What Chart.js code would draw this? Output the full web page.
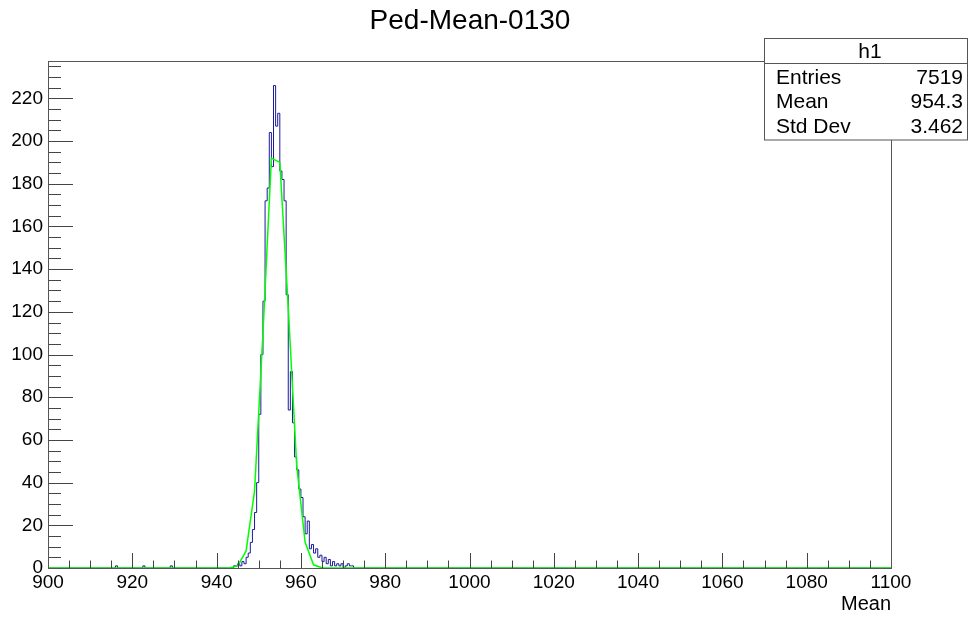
<!DOCTYPE html>
<html>
<head>
<meta charset="utf-8">
<script src="https://cdn.jsdelivr.net/npm/chart.js@4.4.0/dist/chart.umd.min.js"></script>
<style>
  html, body { margin: 0; padding: 0; background: #fff; }
  #wrap { width: 968px; height: 617px; }
</style>
</head>
<body>
<div id="wrap"><canvas id="hist_canvas" width="968" height="617"></canvas></div>
<script>
// histogram h1 (Ped-Mean-0130), counts
const histTitle = "Ped-Mean-0130"
const xTitle = "Mean"
const peakStart = 943.0
const binWidth = 0.5
const peakCounts = [
    0, 0, 1, 1, 2, 1, 3, 2, 5, 7,          // 943.0 - 947.5
    12, 18, 26, 40, 72, 100, 125, 172, 178, 204,   // 948.0 - 952.5
    188, 226, 207, 213, 186, 182, 172, 128, 74, 92, // 953.0 - 957.5
    68, 52, 46, 37, 33, 24, 16, 22, 9, 11,   // 958.0 - 962.5
    7, 9, 5, 6, 3, 5, 2, 4, 1, 3,           // 963.0 - 967.5
    1, 2, 1, 2, 0, 1, 2, 1, 1, 0            // 968.0 - 972.5
]
const strayBins = [916.0, 922.5, 929.0]
const strayCounts = [1, 1, 1]

// gaus fit, drawn as straight segments
const fitX = [900, 943, 945, 947, 949, 951, 953, 955, 957, 959, 961, 963, 965, 1100]
const fitY = [0, 0, 1, 8, 36, 110, 192, 190, 122, 48, 12, 1.5, 0.1, 0]

const statsLabels = ["Entries", "Mean", "Std Dev"]
const statsValues = ["7519", "954.3", "3.462"]
const statsName = "h1"

const xMin = 900, xMax = 1100
const yMin = 0, yMax = 237.5

const FONT = "'Liberation Sans', Arial, Helvetica, sans-serif"

function histPoints() {
    // each point is a bin low edge, step goes flat to the next point
    const pts = [{ x: xMin, y: 0 }]
    for (let i = 0; i < strayBins.length; i++) {
        pts.push({ x: strayBins[i], y: strayCounts[i] })
        pts.push({ x: strayBins[i] + binWidth, y: 0 })
    }
    for (let i = 0; i < peakCounts.length; i++) {
        pts.push({ x: peakStart + i * binWidth, y: peakCounts[i] })
    }
    pts.push({ x: peakStart + peakCounts.length * binWidth, y: 0 })
    pts.push({ x: xMax, y: 0 })
    return pts
}

// frame, inner ticks, title and stats box like ROOT draws them
const rootLook = {
    id: 'rootLook',
    afterDraw(chart) {
        const ctx = chart.ctx
        const a = chart.chartArea
        const xs = chart.scales.x, ys = chart.scales.y
        ctx.save()

        ctx.strokeStyle = '#444'
        ctx.lineWidth = 1
        ctx.beginPath()
        for (let v = xMin; v <= xMax; v += 5) {
            const px = Math.round(xs.getPixelForValue(v)) + 0.5
            const len = (v % 20 === 0) ? 15 : 7.5
            ctx.moveTo(px, a.bottom)
            ctx.lineTo(px, a.bottom - len)
        }
        for (let v = 0; v <= yMax; v += 5) {
            const py = Math.round(ys.getPixelForValue(v)) + 0.5
            const len = (v % 20 === 0) ? 25 : 13
            ctx.moveTo(a.left, py)
            ctx.lineTo(a.left + len, py)
        }
        ctx.stroke()

        // frame
        ctx.strokeStyle = '#555'
        ctx.strokeRect(Math.round(a.left) + 0.5, Math.round(a.top) + 0.5,
            Math.round(a.right - a.left), Math.round(a.bottom - a.top))

        // title
        ctx.fillStyle = '#000'
        ctx.font = '28px ' + FONT
        ctx.textAlign = 'center'
        ctx.textBaseline = 'middle'
        ctx.fillText(histTitle, 470, 21)

        // stats box
        ctx.fillStyle = '#fff'
        ctx.fillRect(764.5, 38.5, 203, 101.5)
        ctx.strokeStyle = '#555'
        ctx.strokeRect(764.5, 38.5, 203, 101.5)
        ctx.beginPath()
        ctx.moveTo(764.5, 63.5)
        ctx.lineTo(967.5, 63.5)
        ctx.stroke()
        ctx.fillStyle = '#000'
        ctx.font = '21px ' + FONT
        ctx.textAlign = 'center'
        ctx.fillText(statsName, 870, 52)
        for (let i = 0; i < statsLabels.length; i++) {
            const y = 78 + i * 24.5
            ctx.textAlign = 'left'
            ctx.fillText(statsLabels[i], 776, y)
            ctx.textAlign = 'right'
            ctx.fillText(statsValues[i], 963, y)
        }
        ctx.restore()
    }
}

const config = {
    type: 'line',
    data: {
        datasets: [
            { label: 'fit', data: fitX.map((x, i) => ({ x: x, y: fitY[i] })), borderColor: '#00ff00', borderWidth: 1.5, pointRadius: 0, tension: 0, order: 0 },
            { label: statsName, data: histPoints(), borderColor: '#1a1a9c', borderWidth: 1, pointRadius: 0, stepped: 'before', order: 1 }
        ]
    },
    options: {
        responsive: false,
        animation: false,
        devicePixelRatio: 1,
        layout: { padding: { left: 0, top: 61, right: 77, bottom: 0 } },
        plugins: { legend: { display: false }, tooltip: { enabled: false }, title: { display: false } },
        scales: {
            x: {
                type: 'linear', min: xMin, max: xMax,
                grid: { display: false, drawTicks: false },
                border: { display: false },
                ticks: { stepSize: 20, padding: 3, color: '#000', font: { family: FONT, size: 19 }, maxRotation: 0, autoSkip: false,
                    callback: (v) => String(v) },
                title: { display: true, text: xTitle, align: 'end', color: '#000', font: { family: FONT, size: 20 }, padding: { top: 0, bottom: 1 } },
                afterFit: (s) => { s.height = 49 }
            },
            y: {
                type: 'linear', min: yMin, max: yMax,
                grid: { display: false, drawTicks: false },
                border: { display: false },
                ticks: { stepSize: 20, padding: 5, includeBounds: false, color: '#000', font: { family: FONT, size: 19 },
                    callback: (v) => String(v) },
                afterFit: (s) => { s.width = 48 }
            }
        }
    },
    plugins: [rootLook]
}

const chart_hist = new Chart(document.getElementById('hist_canvas').getContext('2d'), config)
</script>
</body>
</html>
